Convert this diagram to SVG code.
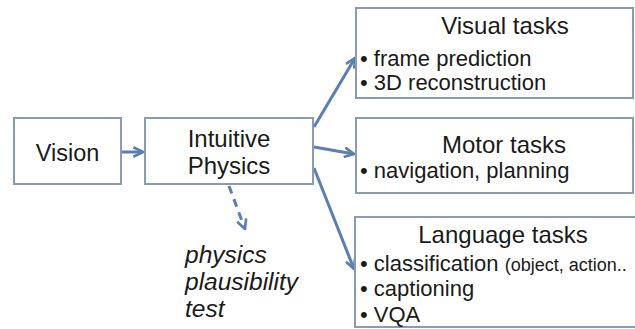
<svg xmlns="http://www.w3.org/2000/svg" width="635" height="329" viewBox="0 0 635 329">
<style>
.box{fill:#fff;stroke:#8a9bb8;stroke-width:2}
.t{font-family:"Liberation Sans",Arial,sans-serif;fill:#1a1a1a}
.title{font-size:24px;text-anchor:middle}
.b{font-size:22px}
.s{font-size:18px}
.it{font-size:24.5px;font-style:italic}
.c{stroke:#5b7fb3;stroke-width:3;fill:none}
.d{stroke-dasharray:8,6}
</style>
<defs>
<marker id="ah" viewBox="0 0 10 10" refX="9" refY="5" markerWidth="4" markerHeight="4" orient="auto" markerUnits="strokeWidth">
<polyline points="1,1 9,5 1,9" fill="none" stroke="#5b7fb3" stroke-width="2.2"/>
</marker>
</defs>
<rect width="635" height="329" fill="#fff"/>
<g id="connectors">
<line class="c" x1="121" y1="152" x2="143" y2="152" marker-end="url(#ah)"/>
<line class="c" x1="314" y1="127" x2="355" y2="58" marker-end="url(#ah)"/>
<line class="c" x1="314" y1="147" x2="354" y2="154" marker-end="url(#ah)"/>
<line class="c" x1="314" y1="168" x2="354" y2="269" marker-end="url(#ah)"/>
<line class="c d" x1="229" y1="186" x2="245" y2="229" marker-end="url(#ah)"/>
</g>
<g id="vision">
<rect class="box" x="14" y="118" width="107" height="66"/>
<text class="t" x="67.5" y="161" font-size="23.5" text-anchor="middle">Vision</text>
</g>
<g id="intuitive-physics">
<rect class="box" x="145" y="118" width="168" height="66"/>
<text class="t title" x="229" y="147">Intuitive</text>
<text class="t title" x="229" y="174">Physics</text>
</g>
<g id="plausibility">
<text class="t it" x="185" y="263">physics</text>
<text class="t it" x="185" y="290">plausibility</text>
<text class="t it" x="185" y="317">test</text>
</g>
<g id="visual-tasks">
<rect class="box" x="356" y="8" width="277" height="90"/>
<text class="t title" x="505" y="34">Visual tasks</text>
<text class="t b" x="360" y="66">• frame prediction</text>
<text class="t b" x="360" y="90">• 3D reconstruction</text>
</g>
<g id="motor-tasks">
<rect class="box" x="356" y="118" width="277" height="75"/>
<text class="t title" x="504" y="153">Motor tasks</text>
<text class="t b" x="360" y="178">• navigation, planning</text>
</g>
<g id="language-tasks">
<rect class="box" x="355" y="217" width="290" height="110"/>
<text class="t title" x="503" y="243">Language tasks</text>
<text class="t b" x="360" y="271">• classification <tspan class="s">(object, action..</tspan></text>
<text class="t b" x="360" y="296">• captioning</text>
<text class="t b" x="360" y="322">• VQA</text>
</g>
</svg>
